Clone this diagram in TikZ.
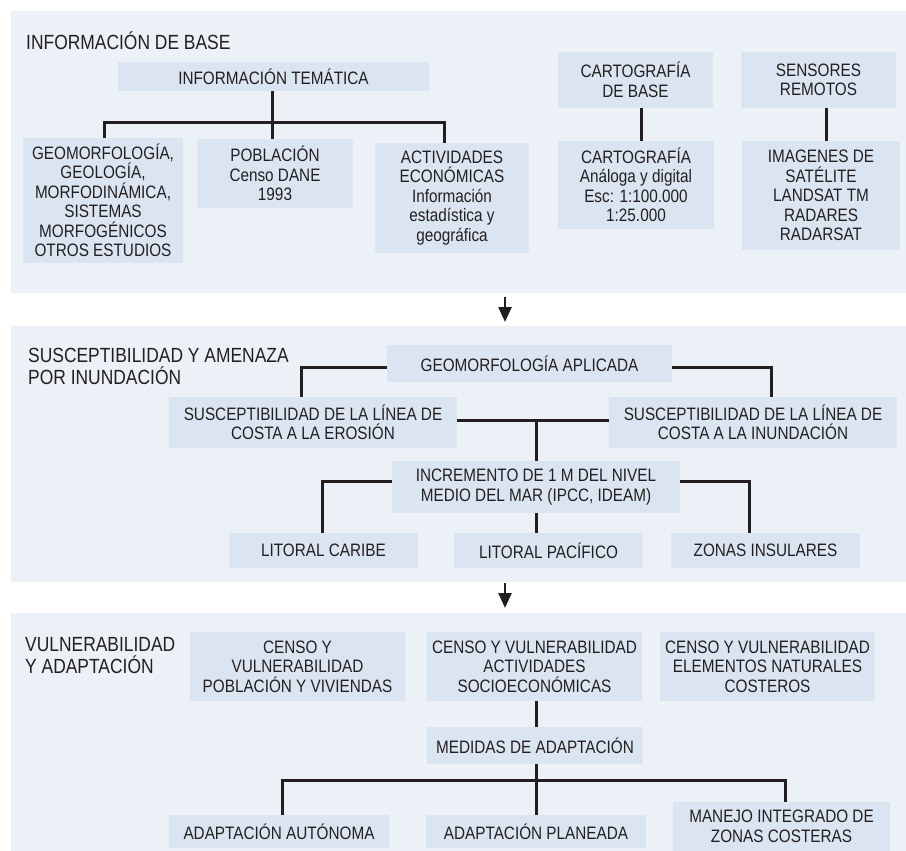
\documentclass[tikz,border=0pt]{standalone}
\usepackage{fontspec}
\setmainfont{Liberation Sans}[FakeStretch=0.85]
\usetikzlibrary{arrows.meta,calc}
\definecolor{panelbg}{RGB}{236,241,248}
\definecolor{boxbg}{RGB}{219,229,241}
\definecolor{ink}{RGB}{35,31,32}
\newcommand\bxfont{\fontsize{18}{19.5}\selectfont}
\newcommand\ttlfont{\fontsize{20.5}{22}\selectfont}
\begin{document}
\begin{tikzpicture}[x=1pt,y=-1pt,
  panel/.style={fill=panelbg, inner sep=0pt, anchor=north west},
  bx/.style={fill=boxbg, inner sep=0pt, align=center, text=ink, font=\bxfont},
  ttl/.style={inner sep=0pt, align=left, text=ink, font=\ttlfont},
  conn/.style={draw=ink, line width=3pt},
  arr/.style={draw=ink, line width=2.5pt, -{Triangle[width=13pt,length=15pt]}}]
\useasboundingbox (0,0) rectangle (906,851);
% panels
\node[panel, minimum width=895pt, minimum height=282pt] (p1) at (11,11) {};
\node[panel, minimum width=895pt, minimum height=256pt] (p2) at (11,326) {};
\node[panel, minimum width=895pt, minimum height=238pt] (p3) at (11,613) {};
% titles
\node[ttl, anchor=base west] (t1) at (26,50) {INFORMACIÓN DE BASE};
\node[ttl, anchor=north west] (t2) at (28,348) {SUSCEPTIBILIDAD Y AMENAZA\\POR INUNDACIÓN};
\node[ttl, anchor=north west] (t3) at (25,637) {VULNERABILIDAD\\Y ADAPTACIÓN};
% section 1
\node[bx, minimum width=311pt, minimum height=29pt] (infotem) at (273.5,76.5) {INFORMACIÓN TEMÁTICA};
\node[bx, minimum width=160pt, minimum height=125pt] (geo) at (103,200.5) {GEOMORFOLOGÍA,\\GEOLOGÍA,\\MORFODINÁMICA,\\SISTEMAS\\MORFOGÉNICOS\\OTROS ESTUDIOS};
\node[bx, minimum width=156pt, minimum height=69pt] (pob) at (275,173.5) {POBLACIÓN\\Censo DANE\\1993};
\node[bx, minimum width=154pt, minimum height=110pt] (act) at (452,198) {ACTIVIDADES\\ECONÓMICAS\\Información\\estadística y\\geográfica};
\node[bx, minimum width=155pt, minimum height=56pt] (cartb) at (635.5,80) {CARTOGRAFÍA\\DE BASE};
\node[bx, minimum width=156pt, minimum height=88pt] (cart) at (636,185) {CARTOGRAFÍA\\Análoga y digital\\Esc: 1:100.000\\1:25.000};
\node[bx, minimum width=155pt, minimum height=56pt] (sens) at (818.5,80) {SENSORES\\REMOTOS};
\node[bx, minimum width=158pt, minimum height=109pt] (img) at (821,195.5) {IMAGENES DE\\SATÉLITE\\LANDSAT TM\\RADARES\\RADARSAT};
\coordinate (j1) at (272,123);
\coordinate (j2) at (104,123);
\coordinate (j3) at (444,123);
\coordinate (j4) at (641,0);
\coordinate (j5) at (826,0);
\draw[conn] (j1 |- infotem.south) -- (j1) -- (j1 |- pob.north);
\draw[conn] (j2 |- geo.north) -- (j2) -- (j3) -- (j3 |- act.north);
\draw[conn] (j4 |- cartb.south) -- (j4 |- cart.north);
\draw[conn] (j5 |- sens.south) -- (j5 |- img.north);
% arrows between panels
\coordinate (ax) at (505,0);
\draw[arr, shorten <=4pt, shorten >=4pt] (ax |- p1.south) -- (ax |- p2.north);
\draw[arr, shorten <=1pt, shorten >=5pt] (ax |- p2.south) -- (ax |- p3.north);
% section 2
\node[bx, minimum width=285pt, minimum height=37pt] (geoap) at (529.5,363.5) {GEOMORFOLOGÍA APLICADA};
\node[bx, minimum width=288pt, minimum height=51pt] (serosion) at (313,422.5) {SUSCEPTIBILIDAD DE LA LÍNEA DE\\COSTA A LA EROSIÓN};
\node[bx, minimum width=288pt, minimum height=51pt] (sinund) at (753,422.5) {SUSCEPTIBILIDAD DE LA LÍNEA DE\\COSTA A LA INUNDACIÓN};
\node[bx, minimum width=288pt, minimum height=52pt] (incr) at (536,487) {INCREMENTO DE 1 M DEL NIVEL\\MEDIO DEL MAR (IPCC, IDEAM)};
\node[bx, minimum width=189pt, minimum height=35pt] (lcar) at (323.5,550.5) {LITORAL CARIBE};
\node[bx, minimum width=189pt, minimum height=35pt] (lpac) at (548.5,550.5) {LITORAL PACÍFICO};
\node[bx, minimum width=189pt, minimum height=35pt] (zins) at (765.5,550.5) {ZONAS INSULARES};
\coordinate (k1) at (301,367);
\coordinate (k2) at (771,367);
\coordinate (k3) at (536,420);
\coordinate (k4) at (322,481);
\coordinate (k5) at (749,481);
\draw[conn] (geoap.west |- k1) -- (k1) -- (k1 |- serosion.north);
\draw[conn] (geoap.east |- k2) -- (k2) -- (k2 |- sinund.north);
\draw[conn] (serosion.east |- k3) -- (sinund.west |- k3);
\draw[conn] (k3) -- (k3 |- incr.north);
\draw[conn] (incr.west |- k4) -- (k4) -- (k4 |- lcar.north);
\draw[conn] (incr.east |- k5) -- (k5) -- (k5 |- zins.north);
\draw[conn] (k3 |- incr.south) -- (k3 |- lpac.north);
% section 3
\node[bx, minimum width=215pt, minimum height=69pt] (cpob) at (297.5,666.5) {CENSO Y\\VULNERABILIDAD\\POBLACIÓN Y VIVIENDAS};
\node[bx, minimum width=215pt, minimum height=69pt] (cact) at (534.5,666.5) {CENSO Y VULNERABILIDAD\\ACTIVIDADES\\SOCIOECONÓMICAS};
\node[bx, minimum width=215pt, minimum height=69pt] (cnat) at (767.5,666.5) {CENSO Y VULNERABILIDAD\\ELEMENTOS NATURALES\\COSTEROS};
\node[bx, minimum width=216pt, minimum height=37pt] (med) at (535,745.5) {MEDIDAS DE ADAPTACIÓN};
\node[bx, minimum width=220pt, minimum height=33pt] (aaut) at (279,831.5) {ADAPTACIÓN AUTÓNOMA};
\node[bx, minimum width=220pt, minimum height=33pt] (apla) at (536,831.5) {ADAPTACIÓN PLANEADA};
\node[bx, minimum width=217pt, minimum height=49pt] (man) at (781.5,826.5) {MANEJO INTEGRADO DE\\ZONAS COSTERAS};
\coordinate (k6) at (536,780);
\coordinate (k7) at (282,780);
\coordinate (k8) at (785,780);
\draw[conn] (k6 |- cact.south) -- (k6 |- med.north);
\draw[conn] (k6 |- med.south) -- (k6) -- (k6 |- apla.north);
\draw[conn] (k7 |- aaut.north) -- (k7) -- (k8) -- (k8 |- man.north);
\end{tikzpicture}
\end{document}
